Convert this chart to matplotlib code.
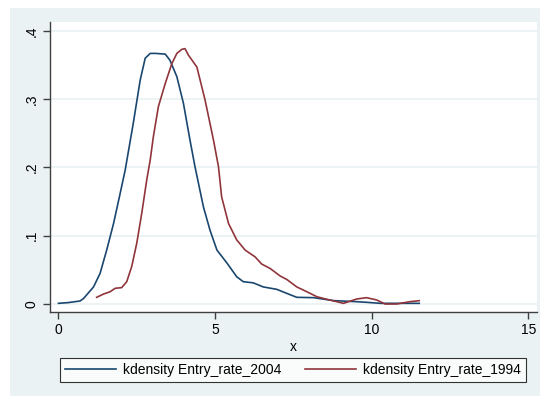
import matplotlib
matplotlib.use("Agg")
import matplotlib.pyplot as plt
from matplotlib.patches import Rectangle

# kdensity curves
x_2004 = [0.0, 0.3, 0.69, 0.8, 1.12, 1.33, 1.54, 1.76, 1.97, 2.13, 2.39, 2.61, 2.77, 2.93,
          3.1, 3.41, 3.56, 3.78, 3.99, 4.2, 4.36, 4.63, 4.84, 5.06, 5.38, 5.69, 5.9, 6.22,
          6.54, 6.97, 7.29, 7.61, 8.14, 8.78, 9.52, 9.84, 10.27, 10.9, 11.52]
y_2004 = [0.001, 0.002, 0.0044, 0.008, 0.025, 0.045, 0.079, 0.118, 0.162, 0.196, 0.265, 0.328,
          0.36, 0.367, 0.367, 0.366, 0.357, 0.333, 0.294, 0.240, 0.201, 0.142, 0.108, 0.079,
          0.060, 0.040, 0.0327, 0.031, 0.025, 0.0215, 0.0156, 0.0098, 0.0093, 0.005, 0.0034,
          0.0025, 0.001, 0.001, 0.001]

x_1994 = [1.22, 1.44, 1.65, 1.81, 2.02, 2.18, 2.34, 2.5, 2.66, 2.82, 2.93, 3.03, 3.19, 3.41,
          3.62, 3.78, 3.94, 4.04, 4.15, 4.42, 4.68, 4.95, 5.11, 5.21, 5.43, 5.69, 5.96, 6.28,
          6.49, 6.76, 7.08, 7.29, 7.61, 7.93, 8.25, 8.57, 9.1, 9.52, 9.84, 10.16, 10.43, 10.8,
          11.22, 11.52]
y_1994 = [0.0098, 0.0146, 0.018, 0.023, 0.024, 0.0327, 0.055, 0.089, 0.133, 0.182, 0.211,
          0.245, 0.289, 0.323, 0.352, 0.367, 0.373, 0.374, 0.3645, 0.347, 0.299, 0.240, 0.201,
          0.157, 0.118, 0.094, 0.079, 0.069, 0.0585, 0.052, 0.041, 0.036, 0.025, 0.018, 0.0107,
          0.0069, 0.001, 0.0073, 0.0093, 0.0059, 0.0, 0.0, 0.0034, 0.0049]

x_ticks = [0, 5, 10, 15]
y_ticks = [0, 0.1, 0.2, 0.3, 0.4]
y_tick_labels = ["0", ".1", ".2", ".3", ".4"]

navy = "#1a476f"
maroon = "#90353b"
bg = "#eaf2f3"

plt.rcParams["font.family"] = ["Liberation Sans", "DejaVu Sans"]

W, H = 540, 396
fig = plt.figure(figsize=(W / 100, H / 100), dpi=100)
fig.patch.set_facecolor("white")
fig.patches.append(Rectangle((10 / W, 0), 1 - 10 / W, 1 - 8 / H, transform=fig.transFigure,
                             facecolor=bg, edgecolor="none", zorder=-10))

ax = fig.add_axes([50 / W, 84 / H, 487 / W, 290 / H])
ax.set_facecolor("white")

ax.plot(x_2004, y_2004, color=navy, lw=1.2, label="kdensity Entry_rate_2004")
ax.plot(x_1994, y_1994, color=maroon, lw=1.2, label="kdensity Entry_rate_1994")

ax.set_xlim(-0.27, 15.28)
ax.set_ylim(-0.0117, 0.413)
ax.set_xticks(x_ticks)
ax.set_yticks(y_ticks)
ax.set_yticklabels(y_tick_labels, rotation=90, va="center")
ax.grid(axis="y", color=bg, lw=1.3)
ax.set_axisbelow(True)

for s in ["top", "right"]:
    ax.spines[s].set_visible(False)
for s in ["left", "bottom"]:
    ax.spines[s].set_color("#404040")
    ax.spines[s].set_linewidth(1.0)
ax.tick_params(colors="#404040", labelcolor="black", labelsize=10, length=5, width=1.0, pad=3)
ax.set_xlabel("x", fontsize=10, labelpad=2)

leg = fig.legend(loc="lower left", bbox_to_anchor=(60 / W, (396 - 382) / H, 466 / W, 25 / H),
                 mode="expand", ncol=2, fontsize=10, frameon=True, fancybox=False,
                 handlelength=3.7, handletextpad=0.5, borderaxespad=0, borderpad=0.35)
leg.get_frame().set_edgecolor("black")
leg.get_frame().set_linewidth(0.8)

fig.savefig("out.png", dpi=100)
